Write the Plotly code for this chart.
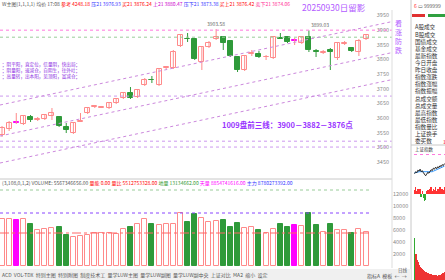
import plotly.graph_objects as go

W, H = 445, 280

# ---------------- data ----------------
opens = [3542.1, 3562.6, 3583.1, 3579.7, 3603.6, 3595.0, 3596.8, 3607.0, 3603.6, 3569.4,
         3548.9, 3588.2, 3617.2, 3637.7, 3636.0, 3634.3, 3651.4, 3668.4, 3685.5, 3671.8,
         3712.8, 3731.6, 3712.8, 3770.8, 3770.8, 3845.9, 3871.5, 3869.8, 3791.3, 3842.5,
         3869.8, 3876.6, 3863.0, 3808.4, 3764.0, 3820.3, 3818.6, 3806.7, 3805.0, 3874.9,
         3876.6, 3863.0, 3856.1, 3876.6, 3830.5, 3823.7, 3832.3, 3805.0, 3854.4, 3839.1,
         3825.4, 3869.8]
closes = [3566.0, 3583.1, 3586.5, 3607.0, 3593.3, 3596.8, 3610.4, 3617.2, 3572.9, 3559.2,
          3583.1, 3589.9, 3634.3, 3641.1, 3637.7, 3651.4, 3665.0, 3685.5, 3668.4, 3695.7,
          3729.9, 3729.9, 3767.4, 3774.2, 3825.4, 3883.4, 3869.8, 3801.5, 3842.5, 3856.1,
          3876.6, 3856.1, 3811.8, 3764.0, 3811.8, 3822.0, 3808.4, 3808.4, 3876.6, 3871.5,
          3859.6, 3866.4, 3876.6, 3832.3, 3827.1, 3825.4, 3825.4, 3856.1, 3856.1, 3828.8,
          3863.0, 3883.4]
highs = [3572.9, 3589.9, 3617.2, 3610.4, 3610.4, 3603.6, 3613.8, 3634.3, 3607.0, 3583.1,
         3586.5, 3617.2, 3637.7, 3644.5, 3641.1, 3654.8, 3668.4, 3688.9, 3705.9, 3699.1,
         3736.7, 3743.5, 3770.8, 3777.6, 3832.3, 3886.9, 3890.3, 3873.2, 3845.9, 3863.0,
         3903.6, 3880.0, 3866.4, 3811.8, 3815.2, 3832.3, 3828.8, 3815.2, 3880.0, 3890.3,
         3880.0, 3873.2, 3880.0, 3899.0, 3835.7, 3832.3, 3839.1, 3859.6, 3863.0, 3842.5,
         3869.8, 3886.9]
lows = [3535.3, 3555.8, 3579.7, 3576.3, 3586.5, 3589.9, 3593.3, 3593.3, 3569.4, 3548.9,
        3545.6, 3586.5, 3613.8, 3634.3, 3634.3, 3630.9, 3647.9, 3665.0, 3665.0, 3668.4,
        3709.4, 3719.6, 3709.4, 3767.4, 3767.4, 3842.5, 3859.6, 3798.1, 3764.0, 3839.1,
        3866.4, 3832.3, 3808.4, 3757.2, 3760.6, 3811.8, 3805.0, 3798.1, 3801.5, 3869.8,
        3856.1, 3849.3, 3852.7, 3825.4, 3808.4, 3818.6, 3764.0, 3798.1, 3849.3, 3825.4,
        3811.8, 3866.4]
volumes = [7833, 7833, 7667, 7833, 7000, 6000, 6167, 6333, 6500, 5167,
           4833, 5000, 5167, 5500, 5500, 5500, 5333, 6167, 6500, 7000,
           7833, 7000, 6833, 7000, 7000, 8833, 7333, 8667, 8000, 7333,
           7500, 7667, 6500, 7167, 6333, 6500, 6000, 5500, 6167, 7000,
           6500, 6833, 6667, 8833, 6833, 5667, 7000, 6000, 6000, 5500,
           6167, 5667]
magenta_days = [2, 41]
price_ticks = [3450, 3500, 3550, 3600, 3650, 3700, 3750, 3800, 3850, 3900, 3950]
vol_ticks = [2000, 4000, 6000, 8000, 10000, 12000]
key_levels = [3900, 3876]
band_levels = [3675, 3521, 3501]
channel_start = [3644.5, 3538.7, 3446.6]
channel_end = [3929.2, 3823.4, 3731.2]
vol_lines = [12667, 8833, 5500]

# small intraday panel (上证指数)
mini_price = [3862, 3866, 3864, 3869, 3867, 3871, 3866, 3868, 3864, 3862, 3858, 3861, 3865, 3863,
              3867, 3870, 3868, 3873, 3871, 3875, 3872, 3876, 3874, 3878, 3876, 3880, 3878, 3882]
mini_avg = [3864, 3864, 3865, 3865, 3866, 3866, 3866, 3866, 3866, 3865, 3865, 3865, 3865, 3865,
            3865, 3866, 3866, 3867, 3868, 3869, 3870, 3871, 3872, 3873, 3874, 3875, 3876, 3877]
mini_flow = [4, 6, 3, 5, 2, 5, -3, 3, -4, -6, -5, 3, 4, 2, 5, 6, 3, 5, 4, 6, 3, 5, 4, 6, 3, 5, 4, 6]
mini_vol = [95, 60, 45, 40, 35, 30, 28, 25, 22, 20, 18, 16, 15, 14, 14, 13, 12, 12, 11, 11, 10, 10,
            11, 12, 12, 14, 16, 18]
mini_prev_close = 3900

panel_items = ["A股成交", "B股成交", "国债成交", "基金成交", "最新指数", "今日开盘", "昨日收盘",
               "指数涨跌", "指数涨幅", "指数振幅", "总成交额", "总成交量", "最高指数", "最低指数",
               "指数量比", "上证换手", "委买数"]
tabs = ["ACD", "VOL-TDX", "特别主图", "特别附图", "制度技术工", "量学LUW主图", "量学LUW副图",
        "量学LUW副中央", "上证对比", "MA2", "缩小", "设定"]

# ---------------- styling ----------------
UP = "#ff8a8a"
DN = "#2f9a3a"
MAG = "#ff00ff"
VIO = "#b35cff"
FONT = "Noto Sans CJK SC"

n = len(opens)
idx = list(range(n))
XR = [-0.28, 54.64]
XD = [0, 392 / W]


def py(y):
    return 1 - y / H


fig = go.Figure()

for col, cond in ((UP, lambda i: closes[i] >= opens[i]), (DN, lambda i: closes[i] < opens[i])):
    xs, ys = [], []
    for i in idx:
        if cond(i):
            xs += [i, i, None]
            ys += [lows[i], highs[i], None]
    fig.add_trace(go.Scatter(x=xs, y=ys, mode="lines", line=dict(color=col, width=1),
                             hoverinfo="skip", showlegend=False, xaxis="x", yaxis="y"))

base = [min(o, c) for o, c in zip(opens, closes)]
hgt = [max(abs(c - o), 1.2) for o, c in zip(opens, closes)]
fill, edge = [], []
for i in idx:
    if i in magenta_days:
        fill.append(MAG); edge.append(MAG)
    elif closes[i] >= opens[i]:
        fill.append("white"); edge.append(UP)
    else:
        fill.append(DN); edge.append(DN)
fig.add_trace(go.Bar(x=idx, y=hgt, base=base, width=0.7,
                     marker=dict(color=fill, line=dict(color=edge, width=1)),
                     showlegend=False, xaxis="x", yaxis="y"))

fig.add_trace(go.Bar(x=idx, y=volumes, width=0.7,
                     marker=dict(color=fill, line=dict(color=edge, width=1)),
                     showlegend=False, xaxis="x2", yaxis="y2"))

# mini intraday panel
mi = list(range(len(mini_price)))
fig.add_trace(go.Bar(x=mi, y=mini_flow, width=0.5,
                     marker=dict(color=["#ff3333" if v > 0 else "#33aa33" for v in mini_flow], line=dict(width=0)),
                     showlegend=False, xaxis="x3", yaxis="y4"))
fig.add_trace(go.Scatter(x=mi, y=mini_avg, mode="lines", line=dict(color="#3399ff", width=1),
                         showlegend=False, xaxis="x3", yaxis="y3"))
fig.add_trace(go.Scatter(x=mi, y=mini_price, mode="lines", line=dict(color="#222", width=1),
                         showlegend=False, xaxis="x3", yaxis="y3"))
fig.add_trace(go.Bar(x=mi, y=mini_vol, width=0.8,
                     marker=dict(color=["#33aa33" if k == 0 else "#ee3333" for k in mi], line=dict(width=0)),
                     showlegend=False, xaxis="x3", yaxis="y5"))

shapes = []
shapes.append(dict(type="line", xref="x", yref="y", x0=XR[0], x1=XR[1], y0=key_levels[0], y1=key_levels[0],
                   line=dict(color="#ff77dd", width=1, dash="dot")))
shapes.append(dict(type="line", xref="x", yref="y", x0=XR[0], x1=XR[1], y0=key_levels[1], y1=key_levels[1],
                   line=dict(color="#99cc99", width=1, dash="dot")))
for lv in band_levels:
    shapes.append(dict(type="line", xref="x", yref="y", x0=XR[0], x1=XR[1], y0=lv, y1=lv,
                       line=dict(color="#cc99ee", width=1, dash="dot")))
for a, b in zip(channel_start, channel_end):
    shapes.append(dict(type="line", xref="x", yref="y", x0=XR[0], x1=XR[1], y0=a, y1=b,
                       line=dict(color="#cc88dd", width=1, dash="dot")))
vcols = ["#99cc99", "#8844ff", "#ff6666"]
vdash = ["dot", "dot", "dashdot"]
for lv, c, d in zip(vol_lines, vcols, vdash):
    shapes.append(dict(type="line", xref="x2", yref="y2", x0=XR[0], x1=51.6, y0=lv, y1=lv,
                       line=dict(color=c, width=1, dash=d)))
shapes.append(dict(type="line", xref="x3", yref="y3", x0=-0.5, x1=len(mi) - 0.5,
                   y0=mini_prev_close, y1=mini_prev_close, line=dict(color="#ff77dd", width=1, dash="dot")))
shapes.append(dict(type="line", xref="paper", yref="paper", x0=0, x1=XD[1], y0=py(179), y1=py(179),
                   line=dict(color="#c8c8c8", width=1)))
shapes.append(dict(type="line", xref="paper", yref="paper", x0=XD[1], x1=XD[1], y0=py(268), y1=py(10),
                   line=dict(color="#dddddd", width=1)))
shapes.append(dict(type="line", xref="paper", yref="paper", x0=411 / W, x1=411 / W, y0=0, y1=1,
                   line=dict(color="#c8c8c8", width=1)))
shapes.append(dict(type="line", xref="paper", yref="paper", x0=411 / W, x1=1, y0=py(145), y1=py(145),
                   line=dict(color="#c8c8c8", width=1)))
shapes.append(dict(type="rect", xref="paper", yref="paper", x0=0, x1=411 / W, y0=0, y1=py(269),
                   line=dict(width=0), fillcolor="#f0f0f0"))
shapes.append(dict(type="rect", xref="paper", yref="paper", x0=412 / W, x1=425 / W, y0=py(17), y1=py(14),
                   line=dict(width=0), fillcolor="#e03030"))
shapes.append(dict(type="rect", xref="paper", yref="paper", x0=428 / W, x1=445 / W, y0=py(17), y1=py(14),
                   line=dict(width=0), fillcolor="#30a040"))

ann = []
hdr = ("<span style='color:#555'>W主图(1,1,1,1) 均价 17:08 </span>"
       "<span style='color:#ff0000'>参考 4248.18 </span>"
       "<span style='color:#3333ff'>压21 3976.93 </span>"
       "<span style='color:#ff0000'>买21 3876.24 </span>"
       "<span style='color:#cc00cc'>上21 3880.47 </span>"
       "<span style='color:#3333ff'>压下21 3873.38 </span>"
       "<span style='color:#ff0000'>买上21 3876.42 </span>"
       "<span style='color:#ff3399'>卖下21 3874.06</span>")
ann.append(dict(x=0, y=py(4), xref="paper", yref="paper", text=hdr, showarrow=False,
                xanchor="left", yanchor="middle", font=dict(size=5, family=FONT)))
vh = ("<span style='color:#555'>(3,108,0,1,2) VOLUME: 5567346656.00 </span>"
      "<span style='color:#ff0000'>量能 0.00 量比 5512753328.00 </span>"
      "<span style='color:#339933'>地量 13134662.00 </span>"
      "<span style='color:#ff00ff'>天量 8854741616.00 </span>"
      "<span style='color:#3333ff'>主力 8780273392.00</span>")
ann.append(dict(x=0, y=py(183), xref="paper", yref="paper", text=vh, showarrow=False,
                xanchor="left", yanchor="middle", font=dict(size=5, family=FONT)))
ann.append(dict(x=0, y=py(70), xref="paper", yref="paper",
                text="；阴平阳，直定位，信量阴，快出局；<br>；阴量阳，速减仓，自阴生，往外吐；<br>；高量转，出本阳，见顶阳，富减仓；",
                showarrow=False, xanchor="left", yanchor="middle", align="left",
                font=dict(size=4.6, color="#8a2be2", family=FONT)))
ann.append(dict(x=300 / W, y=py(7), xref="paper", yref="paper", text="20250930日留影", showarrow=False,
                xanchor="left", yanchor="middle", font=dict(size=8.5, color=VIO, family=FONT)))
ann.append(dict(x=398 / W, y=py(37), xref="paper", yref="paper", text="看<br>涨<br>防<br>跌", showarrow=False,
                xanchor="center", yanchor="middle", font=dict(size=7, color=VIO, family=FONT)))
ann.append(dict(x=220 / W, y=py(124), xref="paper", yref="paper", text="<b>1009盘前三线：3900－3882－3876点</b>",
                showarrow=False, xanchor="left", yanchor="middle",
                font=dict(size=7.5, color="#9933ff", family=FONT)))
ann.append(dict(x=30, y=highs[30], xref="x", yref="y", text="3903.58", showarrow=False,
                xanchor="center", yanchor="bottom", font=dict(size=5, color="#666", family=FONT)))
ann.append(dict(x=43, y=highs[43], xref="x", yref="y", text="3899.03", showarrow=False,
                xanchor="left", yanchor="bottom", font=dict(size=5, color="#666", family=FONT)))
for k, t in enumerate(panel_items):
    ann.append(dict(x=413 / W, y=py(27.5 + 7.1 * k), xref="paper", yref="paper", text=t, showarrow=False,
                    xanchor="left", yanchor="middle", font=dict(size=5.6, color="#333", family=FONT)))
ann.append(dict(x=441 / W, y=py(141.1), xref="paper", yref="paper", text="1", showarrow=False,
                xanchor="left", yanchor="middle", font=dict(size=5, color="#ff0000", family=FONT)))
ann.append(dict(x=412 / W, y=py(5), xref="paper", yref="paper",
                text="<span style='color:#ff3333'>6</span> <span style='color:#555'>▭ 999999</span>",
                showarrow=False, xanchor="left", yanchor="middle", font=dict(size=5, family=FONT)))
ann.append(dict(x=413 / W, y=py(149), xref="paper", yref="paper", text="上证指数", showarrow=False,
                xanchor="left", yanchor="middle", font=dict(size=4.5, color="#333", family=FONT)))
ann.append(dict(x=0, y=py(275), xref="paper", yref="paper", text="  ".join(tabs), showarrow=False,
                xanchor="left", yanchor="middle", font=dict(size=5, color="#555", family=FONT)))
ann.append(dict(x=365 / W, y=py(276), xref="paper", yref="paper", text="指标A  模板  ←  →", showarrow=False,
                xanchor="left", yanchor="middle", font=dict(size=5, color="#555", family=FONT)))
ann.append(dict(x=396 / W, y=py(270), xref="paper", yref="paper", text="日线", showarrow=False,
                xanchor="left", yanchor="middle", font=dict(size=4.5, color="#555", family=FONT)))

fig.update_layout(
    width=W, height=H, margin=dict(l=0, r=0, t=0, b=0, pad=0),
    paper_bgcolor="white", plot_bgcolor="white", showlegend=False, bargap=0,
    shapes=shapes, annotations=ann,
    xaxis=dict(domain=XD, range=XR, visible=False, fixedrange=True),
    xaxis2=dict(domain=XD, range=XR, visible=False, anchor="y2"),
    xaxis3=dict(domain=[414 / W, 1], range=[-0.5, len(mi) - 0.5], visible=False, anchor="y3"),
    yaxis=dict(domain=[py(177), py(10)], range=[3398.8, 3968.8], side="right",
               tickvals=price_ticks, ticklabelposition="inside", showgrid=False, zeroline=False,
               tickfont=dict(size=5.5, color="#888", family=FONT), ticks="", showline=False),
    yaxis2=dict(domain=[py(266), py(186)], range=[0, 13333], side="right", anchor="x2",
                tickvals=vol_ticks, ticktext=[str(v) for v in vol_ticks], showgrid=False, zeroline=False,
                ticks="", tickfont=dict(size=5.5, color="#888", family=FONT), showline=False),
    yaxis3=dict(domain=[py(200), py(152)], range=[3810, 3905], visible=False, anchor="x3"),
    yaxis4=dict(domain=[py(205), py(183)], range=[-10, 10], visible=False, anchor="x3"),
    yaxis5=dict(domain=[0, py(236)], range=[0, 100], visible=False, anchor="x3"),
)

fig.write_html("out.html")
